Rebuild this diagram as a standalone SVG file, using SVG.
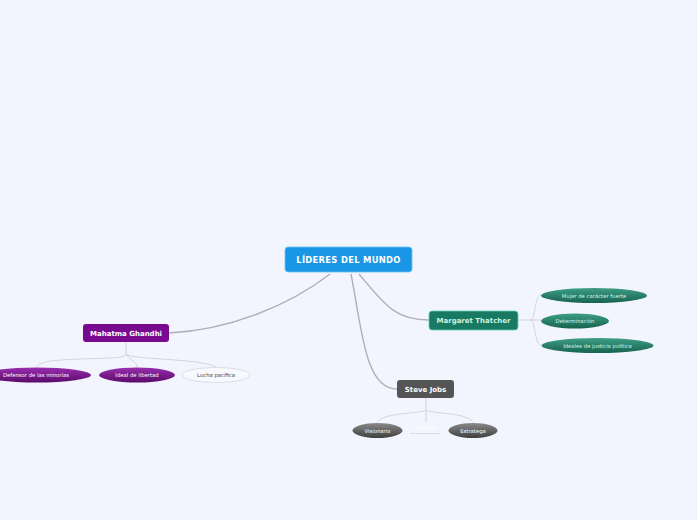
<svg xmlns="http://www.w3.org/2000/svg" width="697" height="520" viewBox="0 0 697 520">
<defs>
<linearGradient id="gP" x1="0" y1="0" x2="0" y2="1"><stop offset="0" stop-color="#9a2fae"/><stop offset="1" stop-color="#5a0a6c"/></linearGradient>
<linearGradient id="gG" x1="0" y1="0" x2="0" y2="1"><stop offset="0" stop-color="#3f9e85"/><stop offset="1" stop-color="#166450"/></linearGradient>
<linearGradient id="gK" x1="0" y1="0" x2="0" y2="1"><stop offset="0" stop-color="#8a8a8a"/><stop offset="1" stop-color="#3f3f3f"/></linearGradient>
<style>
text{font-family:"DejaVu Sans",Verdana,sans-serif;text-anchor:middle;dominant-baseline:central}
.main{fill:#fff;font-weight:bold;font-size:8.4px;letter-spacing:0.3px}
.mt{font-weight:bold;font-size:7px}
.sub{font-size:5.3px;fill:#fff}
.mainline{fill:none;stroke:#b0b0b4;stroke-width:1.4}
.subline{fill:none;stroke:#cfd0d6;stroke-width:0.9}
</style>
</defs>
<rect width="697" height="520" fill="#f3f5fe"/>
<g id="connectors">
<path class="mainline" d="M330,274 C290,305 230,330 169,333"/>
<path class="mainline" d="M359,274 C385,305 395,320 429,320"/>
<path class="mainline" d="M351,274 C362,330 365,389 397,389"/>
<path class="subline" d="M126,342 V354 C126,360 90,357 50,361 C40,363 38,365 36,367"/>
<path class="subline" d="M126,354 C130,360 137,362 137,367"/>
<path class="subline" d="M126,354 C130,360 200,358 216,367"/>
<path class="subline" d="M518,320 H530 C536,320 534,296 541,295"/>
<path class="subline" d="M530,320 H541"/>
<path class="subline" d="M530,320 C536,320 534,344 541,345"/>
<path class="subline" d="M426,397 V410 C420,414 385,412 377,422"/>
<path class="subline" d="M426,410 V422"/>
<path class="subline" d="M426,410 C432,414 465,412 473,422"/>
</g>
<g id="root">
<rect x="285" y="247" width="127" height="25" rx="3" fill="#1996e6" stroke="#6cc0f5" stroke-width="0.8"/>
<text class="main" x="348.5" y="260">LÍDERES DEL MUNDO</text>
</g>
<g id="ghandhi">
<rect x="83" y="324" width="86" height="18" rx="3" fill="#780a90"/>
<text class="mt" x="126" y="333.5" fill="#fff">Mahatma Ghandhi</text>
</g>
<g id="g1"><ellipse cx="37" cy="375" rx="54" ry="7.5" fill="url(#gP)"/><text class="sub" x="36" y="375">Defensor de las minorías</text></g>
<g id="g2"><ellipse cx="137" cy="375" rx="38" ry="7.5" fill="url(#gP)"/><text class="sub" x="137" y="375">Ideal de libertad</text></g>
<g id="g3"><ellipse cx="216" cy="375" rx="34" ry="7.5" fill="#f8f9fe" stroke="#d4d6dc" stroke-width="0.8"/><text class="sub" x="216" y="375" style="fill:#444">Lucha pacífica</text></g>
<g id="thatcher">
<rect x="429" y="311" width="89" height="19" rx="3" fill="#187a62" stroke="#5fd3b2" stroke-width="0.8"/>
<text class="mt" x="473.5" y="321" fill="#c9f2e2">Margaret Thatcher</text>
</g>
<g id="t1"><ellipse cx="594" cy="295.5" rx="53" ry="7.5" fill="url(#gG)"/><text class="sub" x="594" y="296" style="fill:#d4f5ea">Mujer de carácter fuerte</text></g>
<g id="t2"><ellipse cx="575" cy="321" rx="34" ry="7.5" fill="url(#gG)"/><text class="sub" x="575" y="321" style="fill:#d4f5ea">Determinación</text></g>
<g id="t3"><ellipse cx="597.5" cy="345.5" rx="56" ry="7.5" fill="url(#gG)"/><text class="sub" x="597.5" y="346" style="fill:#d4f5ea">Ideales de justicia política</text></g>
<g id="jobs">
<rect x="397" y="380" width="57" height="18" rx="3" fill="#555555"/>
<text class="mt" x="425.5" y="389.5" fill="#fff">Steve Jobs</text>
</g>
<g id="j1"><ellipse cx="377.5" cy="430.5" rx="25" ry="7.5" fill="url(#gK)"/><text class="sub" x="377.5" y="431">Visionario</text></g>
<g id="j2"><text class="sub" x="425.5" y="428">Soñador</text><line x1="410" y1="433.5" x2="441" y2="433.5" stroke="#d8dae2" stroke-width="0.9"/></g>
<g id="j3"><ellipse cx="473" cy="430.5" rx="24.5" ry="7.5" fill="url(#gK)"/><text class="sub" x="473" y="431">Estratega</text></g>
</svg>
